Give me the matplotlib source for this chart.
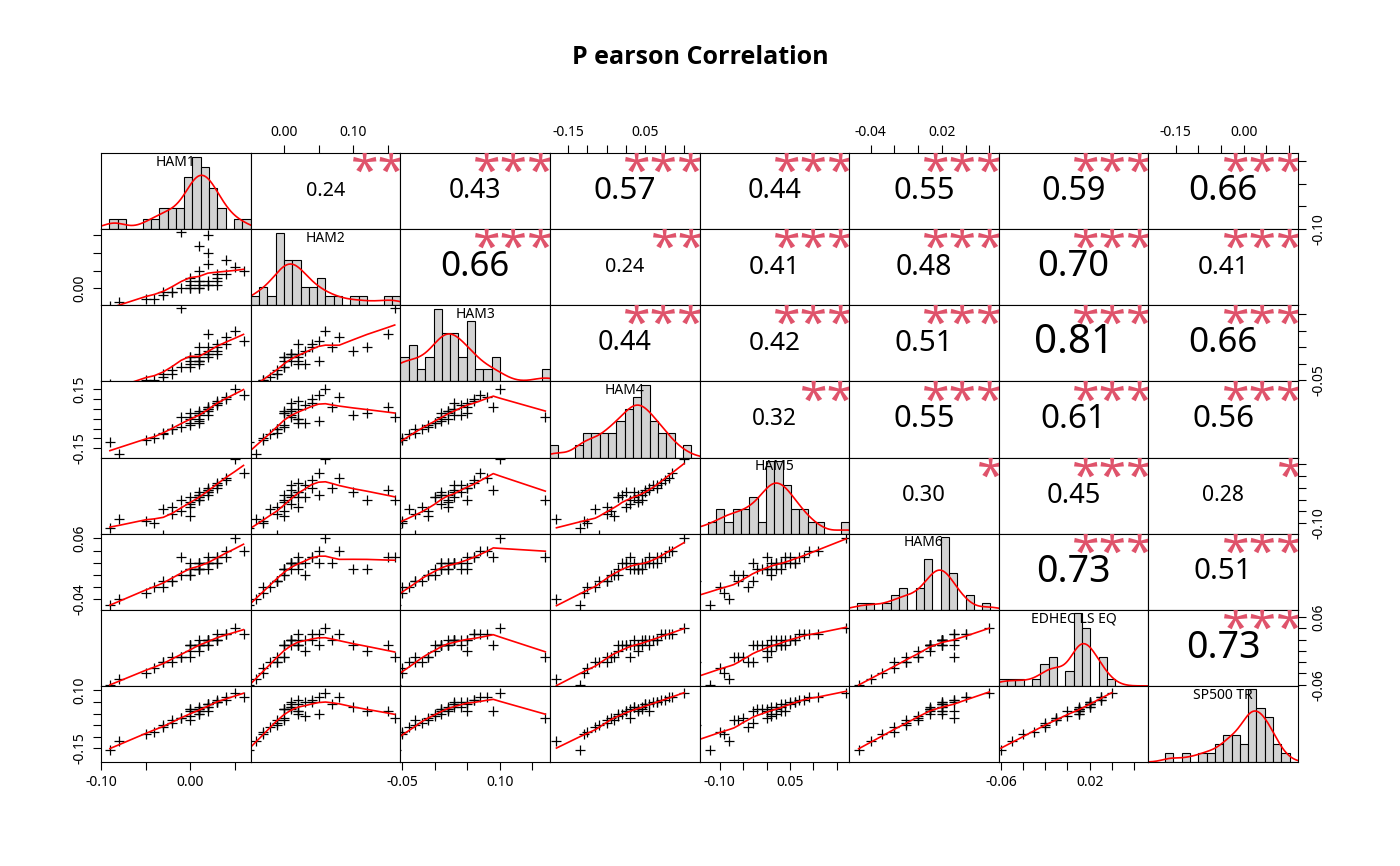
import numpy as np
import matplotlib.pyplot as plt

plt.rcParams['font.family'] = ['Noto Sans', 'DejaVu Sans']

names = ["HAM1", "HAM2", "HAM3", "HAM4", "HAM5", "HAM6", "EDHEC LS EQ", "SP500 TR"]

ham1 = [0.01,-0.02,0.03,0.00,-0.04,0.02,0.02,0.00,0.03,-0.08,0.01,0.01,-0.03,0.04,0.01,-0.01,0.02,0.02,-0.09,0.05,0.00,-0.03,0.03,0.01,0.00,0.02,0.04,-0.05,0.01,0.02,0.00,-0.02,0.06,0.01,-0.01,0.03]
ham2 = [0.00,-0.01,0.04,0.02,-0.03,0.01,0.10,0.03,0.02,-0.04,0.00,0.05,-0.01,0.08,0.01,0.00,0.15,0.02,-0.05,0.06,0.01,-0.02,0.03,0.12,0.00,0.01,0.04,-0.03,0.02,0.07,0.00,-0.01,0.05,0.02,0.16,0.01]
ham3 = [0.01,-0.03,0.05,0.02,-0.05,0.03,0.04,0.00,0.06,-0.07,0.02,0.01,-0.03,0.08,0.03,-0.01,0.09,0.03,-0.06,0.10,0.01,-0.04,0.04,0.05,-0.01,0.02,0.06,-0.05,0.00,0.05,0.02,-0.02,0.07,0.01,0.17,0.03]
ham4 = [0.03,-0.05,0.08,0.00,-0.10,0.05,0.02,-0.02,0.09,-0.18,0.04,-0.01,-0.07,0.11,0.02,-0.04,0.06,0.05,-0.12,0.15,0.01,-0.08,0.07,0.03,-0.03,0.04,0.10,-0.11,-0.02,0.06,0.03,-0.05,0.12,0.00,0.01,0.08]
ham5 = [0.02,-0.06,0.05,-0.03,-0.10,0.04,0.03,0.01,0.07,-0.08,0.00,0.02,-0.15,0.09,0.01,-0.05,0.04,0.03,-0.12,0.17,-0.02,-0.04,0.06,0.00,-0.07,0.02,0.08,-0.09,0.01,0.05,-0.01,-0.03,0.11,0.03,0.00,0.06]
ham6 = [0.01,-0.01,0.03,0.02,-0.02,0.02,0.01,0.00,0.03,-0.04,0.01,0.02,-0.01,0.04,0.02,0.00,0.03,0.02,-0.05,0.06,0.01,-0.02,0.02,0.01,0.00,0.02,0.03,-0.03,0.01,0.02,0.01,-0.01,0.04,0.02,0.03,0.02]
edhec = [0.01,-0.01,0.02,0.01,-0.03,0.02,0.01,0.00,0.03,-0.05,0.01,0.01,-0.02,0.03,0.02,-0.01,0.01,0.02,-0.06,0.04,0.01,-0.02,0.02,0.00,-0.01,0.02,0.03,-0.04,0.01,0.02,0.01,-0.02,0.03,0.01,-0.01,0.02]
sp500 = [0.02,-0.03,0.05,0.01,-0.08,0.04,0.03,-0.01,0.06,-0.12,0.02,0.00,-0.05,0.07,0.03,-0.02,0.01,0.04,-0.16,0.09,0.02,-0.06,0.05,0.01,-0.03,0.03,0.06,-0.09,0.00,0.04,0.02,-0.04,0.07,0.01,-0.02,0.05]
series = [ham1, ham2, ham3, ham4, ham5, ham6, edhec, sp500]

# correlations and stars as printed in the upper triangle
corr_upper = [
    [0.24, 0.43, 0.57, 0.44, 0.55, 0.59, 0.66],
    [0.66, 0.24, 0.41, 0.48, 0.70, 0.41],
    [0.44, 0.42, 0.51, 0.81, 0.66],
    [0.32, 0.55, 0.61, 0.56],
    [0.30, 0.45, 0.28],
    [0.73, 0.51],
    [0.73],
]
stars_upper = [
    ["**", "***", "***", "***", "***", "***", "***"],
    ["***", "**", "***", "***", "***", "***"],
    ["***", "***", "***", "***", "***"],
    ["**", "***", "***", "***"],
    ["*", "***", "*"],
    ["***", "***"],
    ["***"],
]

limits = [(-0.10, 0.068), (-0.048, 0.168), (-0.053, 0.177), (-0.197, 0.19),
          (-0.143, 0.176), (-0.058, 0.068), (-0.062, 0.073), (-0.21, 0.12)]
ticks = [np.arange(-0.10, 0.07, 0.05), np.arange(0.0, 0.17, 0.05), np.arange(-0.05, 0.17, 0.05),
         np.arange(-0.15, 0.16, 0.05), np.arange(-0.10, 0.16, 0.05), np.arange(-0.04, 0.061, 0.02),
         np.arange(-0.06, 0.061, 0.02), np.arange(-0.15, 0.11, 0.05)]
xlabels = [[-0.10, 0.00], [0.00, 0.10], [-0.05, 0.10], [-0.15, 0.05],
           [-0.10, 0.05], [-0.04, 0.02], [-0.06, 0.02], [-0.15, 0.00]]
ylabels = [[-0.10], [0.00], [-0.05], [-0.15, 0.15],
           [-0.10], [-0.04, 0.06], [-0.06, 0.06], [-0.15, 0.10]]


def lowess(x, y, f=2/3):
    order = np.argsort(x)
    x, y = x[order], y[order]
    n = len(x)
    r = int(np.ceil(f * n))
    fit = np.zeros(n)
    for i in range(n):
        d = np.abs(x - x[i])
        h = np.sort(d)[r - 1] + 1e-9
        w = np.clip(1 - (d / h) ** 3, 0, 1) ** 3
        A = np.vstack([np.ones(n), x]).T * np.sqrt(w)[:, None]
        b = y * np.sqrt(w)
        beta = np.linalg.lstsq(A, b, rcond=None)[0]
        fit[i] = beta[0] + beta[1] * x[i]
    return x, fit


def fmt_labels(tk, keep):
    return ["%.2f" % t if any(abs(t - k) < 1e-9 for k in keep) else "" for t in tk]


def tick_pos(k, data_scale):
    # upper panels use a 0..1 scale, so map data ticks onto it
    if data_scale:
        return ticks[k]
    lo, hi = limits[k]
    return (ticks[k] - lo) / (hi - lo)


fig, axs = plt.subplots(8, 8, figsize=(14, 8.66), dpi=100)
fig.subplots_adjust(left=101/1400, right=1298/1400, top=1-153/866, bottom=1-762/866,
                    wspace=0, hspace=0)
star_col = "#DF536B"

for i in range(8):
    for j in range(8):
        ax = axs[i, j]
        xi = np.array(series[j])
        yi = np.array(series[i])
        ax.set_xticks([])
        ax.set_yticks([])
        if i == j:
            lo, hi = limits[j]
            bins = np.linspace(lo, hi, 19)
            ax.hist(xi, bins=bins, density=True,
                    color="#D3D3D3", edgecolor="black", linewidth=0.8)
            gx = np.linspace(lo, hi, 200)
            bw = 0.75 * xi.std() * len(xi) ** (-0.2)
            dens = np.exp(-0.5 * ((gx[:, None] - xi[None, :]) / bw) ** 2).sum(1) / (len(xi) * bw * np.sqrt(2 * np.pi))
            ax.plot(gx, dens, color="red", linewidth=1.2)
            ax.set_xlim(lo, hi)
            top = max(dens.max(), np.histogram(xi, bins=bins, density=True)[0].max())
            ax.set_ylim(0, top * 1.05)
            ax.text(0.5, 0.88, names[j], transform=ax.transAxes, ha="center", va="center", fontsize=10)
        elif i > j:
            ax.plot(xi, yi, "+", color="black", markersize=7, markeredgewidth=0.9)
            lx, ly = lowess(xi, yi)
            ax.plot(lx, ly, color="red", linewidth=1.2)
            ax.set_xlim(*limits[j])
            ax.set_ylim(*limits[i])
        else:
            r = corr_upper[i][j - i - 1]
            s = stars_upper[i][j - i - 1]
            ax.set_xlim(0, 1)
            ax.set_ylim(0, 1)
            ax.text(0.5, 0.5, "%.2f" % r, ha="center", va="center", fontsize=8 + 26 * r)
            ax.text(1.04, 1.04, s, ha="right", va="top", fontsize=36, color=star_col, clip_on=True)
        # outer axes, alternating like R's pairs()
        if i == 7 and j % 2 == 0:
            ax.set_xticks(tick_pos(j, i >= j))
            ax.set_xticklabels(fmt_labels(ticks[j], xlabels[j]), fontsize=10)
        if i == 0 and j % 2 == 1:
            ax.xaxis.tick_top()
            ax.set_xticks(tick_pos(j, i >= j))
            ax.set_xticklabels(fmt_labels(ticks[j], xlabels[j]), fontsize=10)
        if j == 0 and i % 2 == 1:
            ax.set_yticks(tick_pos(i, i > j))
            ax.set_yticklabels(fmt_labels(ticks[i], ylabels[i]), fontsize=10, rotation=90, va="center")
        if j == 7 and i % 2 == 0:
            ax.yaxis.tick_right()
            ax.set_yticks(tick_pos(i, i > j))
            ax.set_yticklabels(fmt_labels(ticks[i], ylabels[i]), fontsize=10, rotation=90, va="center")
        ax.tick_params(length=6)

fig.text(0.5, 1-58/866, "P earson Correlation", fontsize=18, fontweight="bold",
         ha="center", va="center", family=["Open Sans", "DejaVu Sans"])
fig.savefig("out.png", dpi=100)
